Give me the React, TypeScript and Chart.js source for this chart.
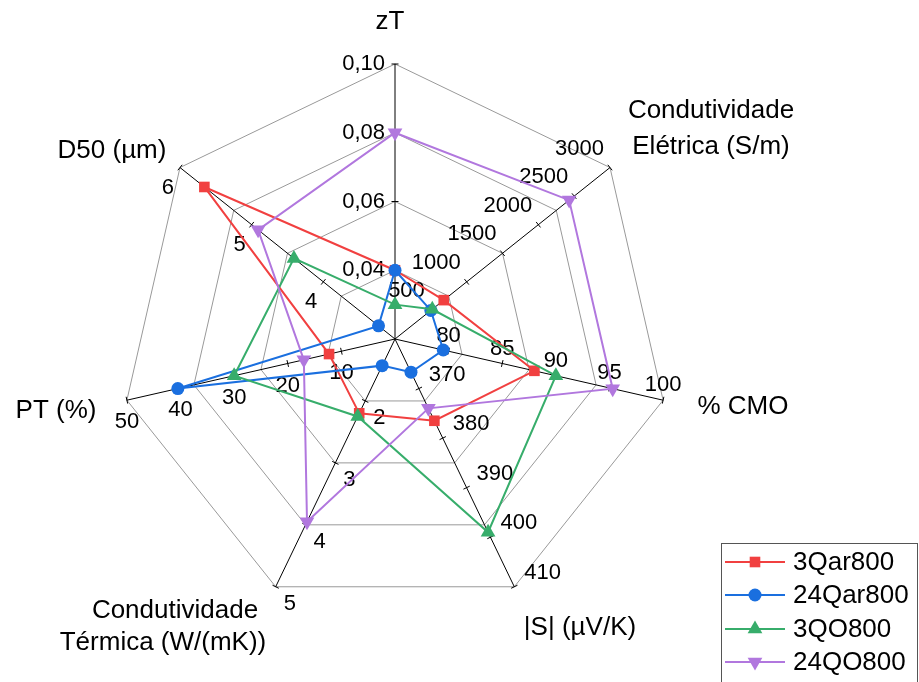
import React, { useEffect, useRef } from "react";
import { Chart, registerables } from "chart.js";
Chart.register(...registerables);

// ---------- Data ----------
const axisTitles: string[][] = [
  ["zT"],
  ["Condutividade", "Elétrica (S/m)"],
  ["% CMO"],
  ["|S| (µV/K)"],
  ["Condutividade", "Térmica (W/(mK))"],
  ["PT (%)"],
  ["D50 (µm)"],
];
const axisMin = [0.02, 0, 75, 360, 1, 0, 3];
const axisMax = [0.1, 3000, 100, 410, 5, 50, 6];
const axisTicks: number[][] = [
  [0.04, 0.06, 0.08, 0.1],
  [500, 1000, 1500, 2000, 2500, 3000],
  [80, 85, 90, 95, 100],
  [370, 380, 390, 400, 410],
  [2, 3, 4, 5],
  [10, 20, 30, 40, 50],
  [4, 5, 6],
];
const tickDecimals = [2, 0, 0, 0, 0, 0, 0];

const seriesNames = ["3Qar800", "24Qar800", "3QO800", "24QO800"];
const s3Qar800 = [0.04, 680, 88, 376.5, 2.2, 12.3, 5.66];
const s24Qar800 = [0.04, 500, 79.5, 366.7, 1.43, 40.5, 3.23];
const s3QO800 = [0.03, 520, 90, 399, 2.25, 30, 4.41];
const s24QO800 = [0.08, 2430, 95.3, 374, 3.95, 17, 4.91];
const seriesValues = [s3Qar800, s24Qar800, s3QO800, s24QO800];

// ---------- Styles ----------
const seriesColors = ["#F14040", "#1A6FDF", "#37AD6B", "#B177DE"];
const seriesMarkers = ["rect", "circle", "triangle", "triangleDown"];
const seriesRadius = [7.5, 6.5, 8.5, 8.5];
const seriesOrder = [4, 3, 2, 1];

const FONT = 'Arial, "Liberation Sans", sans-serif';

const tickLabelStyle = [
  { align: "right", dx: -10, dy: 0 },
  { align: "right", dx: -6, dy: -19 },
  { align: "center", dx: 0, dy: -15 },
  { align: "left", dx: 10, dy: -14 },
  { align: "left", dx: 8, dy: 17 },
  { align: "center", dx: 0, dy: 22 },
  { align: "right", dx: -6, dy: 20 },
];

// title line positions: [x center, baseline y]
const titlePos: number[][][] = [
  [[390, 29]],
  [[711, 118], [711, 154]],
  [[743, 414]],
  [[580, 635]],
  [[175, 618], [163, 650]],
  [[56, 418]],
  [[112, 158]],
];

function fmt(i: number, v: number) {
  return v.toFixed(tickDecimals[i]).replace(".", ",");
}

function norm(i: number, v: number) {
  return (v - axisMin[i]) / (axisMax[i] - axisMin[i]);
}

function drawMarker(ctx: CanvasRenderingContext2D, kind: string, x: number, y: number, r: number, color: string) {
  ctx.fillStyle = color;
  ctx.beginPath();
  if (kind === "rect") {
    const s = r * Math.SQRT1_2;
    ctx.rect(x - s, y - s, 2 * s, 2 * s);
  } else if (kind === "circle") {
    ctx.arc(x, y, r, 0, Math.PI * 2);
  } else {
    const dir = kind === "triangle" ? -1 : 1;
    for (let k = 0; k < 3; k++) {
      const a = (k * 2 * Math.PI) / 3;
      const px = x + Math.sin(a) * r;
      const py = y + dir * Math.cos(a) * r;
      if (k === 0) ctx.moveTo(px, py);
      else ctx.lineTo(px, py);
    }
    ctx.closePath();
  }
  ctx.fill();
}

const overlayPlugin = {
  id: "overlay",
  beforeDatasetsDraw(chart: any) {
    const r = chart.scales.r;
    const ctx: CanvasRenderingContext2D = chart.ctx;
    ctx.save();
    axisTicks.forEach((ticks, i) => {
      const st = tickLabelStyle[i];
      ticks.forEach((v) => {
        const p = r.getPointPosition(i, r.getDistanceFromCenterForValue(norm(i, v)));
        const ang = p.angle;
        const ux = Math.cos(ang), uy = Math.sin(ang);
        const px = -uy, py = ux;
        ctx.strokeStyle = "#000";
        ctx.lineWidth = 1;
        ctx.beginPath();
        ctx.moveTo(p.x - px * 3.5, p.y - py * 3.5);
        ctx.lineTo(p.x + px * 3.5, p.y + py * 3.5);
        ctx.stroke();
        ctx.font = "22px " + FONT;
        ctx.fillStyle = "#000";
        ctx.textAlign = st.align as CanvasTextAlign;
        ctx.textBaseline = "middle";
        ctx.fillText(fmt(i, v), p.x + st.dx, p.y + st.dy);
      });
    });
    ctx.restore();
  },
  afterDraw(chart: any) {
    const ctx: CanvasRenderingContext2D = chart.ctx;
    ctx.save();
    // axis titles
    ctx.font = "26px " + FONT;
    ctx.fillStyle = "#000";
    ctx.textAlign = "center";
    ctx.textBaseline = "alphabetic";
    axisTitles.forEach((lines, i) => {
      lines.forEach((line, j) => {
        const [x, y] = titlePos[i][j];
        ctx.fillText(line, x, y);
      });
    });
    // legend
    ctx.strokeStyle = "#555";
    ctx.lineWidth = 1;
    ctx.fillStyle = "#fff";
    ctx.fillRect(721.5, 543.5, 196, 150);
    ctx.strokeRect(721.5, 543.5, 196, 150);
    const rowY = [562, 595, 629, 662];
    seriesNames.forEach((name, k) => {
      const y = rowY[k];
      ctx.strokeStyle = seriesColors[k];
      ctx.lineWidth = 2;
      ctx.beginPath();
      ctx.moveTo(725, y);
      ctx.lineTo(785, y);
      ctx.stroke();
      drawMarker(ctx, seriesMarkers[k], 755, y, seriesRadius[k], seriesColors[k]);
      ctx.fillStyle = "#000";
      ctx.font = "26px " + FONT;
      ctx.textAlign = "left";
      ctx.textBaseline = "middle";
      ctx.fillText(name, 793, y + 1);
    });
    ctx.restore();
  },
};

export default function App() {
  const ref = useRef<HTMLCanvasElement | null>(null);
  useEffect(() => {
    document.body.style.margin = "0";
    const canvas = ref.current!;
    const datasets = seriesNames.map((name, k) => ({
      label: name,
      data: seriesValues[k].map((v, i) => norm(i, v)),
      borderColor: seriesColors[k],
      backgroundColor: seriesColors[k],
      pointBackgroundColor: seriesColors[k],
      pointBorderColor: seriesColors[k],
      pointBorderWidth: 0,
      pointStyle: seriesMarkers[k] === "triangleDown" ? "triangle" : seriesMarkers[k],
      pointRotation: seriesMarkers[k] === "triangleDown" ? 180 : 0,
      pointRadius: seriesRadius[k],
      borderWidth: 2,
      fill: false,
      tension: 0,
      order: seriesOrder[k],
    }));
    const chart = new Chart(canvas, {
      type: "radar",
      data: { labels: axisTitles.map((t) => t.join(" ")), datasets },
      options: {
        animation: false,
        responsive: false,
        events: [],
        layout: { padding: { left: 120, top: 64, right: 249, bottom: 68 } },
        plugins: { legend: { display: false }, tooltip: { enabled: false } },
        scales: {
          r: {
            min: 0,
            max: 1,
            ticks: { display: false, stepSize: 0.25 },
            grid: { color: "#999", lineWidth: 1 },
            angleLines: { color: "#000", lineWidth: 1 },
            pointLabels: { display: false },
          },
        },
      } as any,
      plugins: [overlayPlugin as any],
    });
    return () => chart.destroy();
  }, []);
  return (
    <div style={{ position: "absolute", left: 0, top: 0, width: 919, height: 682, background: "#fff" }}>
      <canvas ref={ref} width={919} height={682} style={{ display: "block" }} />
    </div>
  );
}
